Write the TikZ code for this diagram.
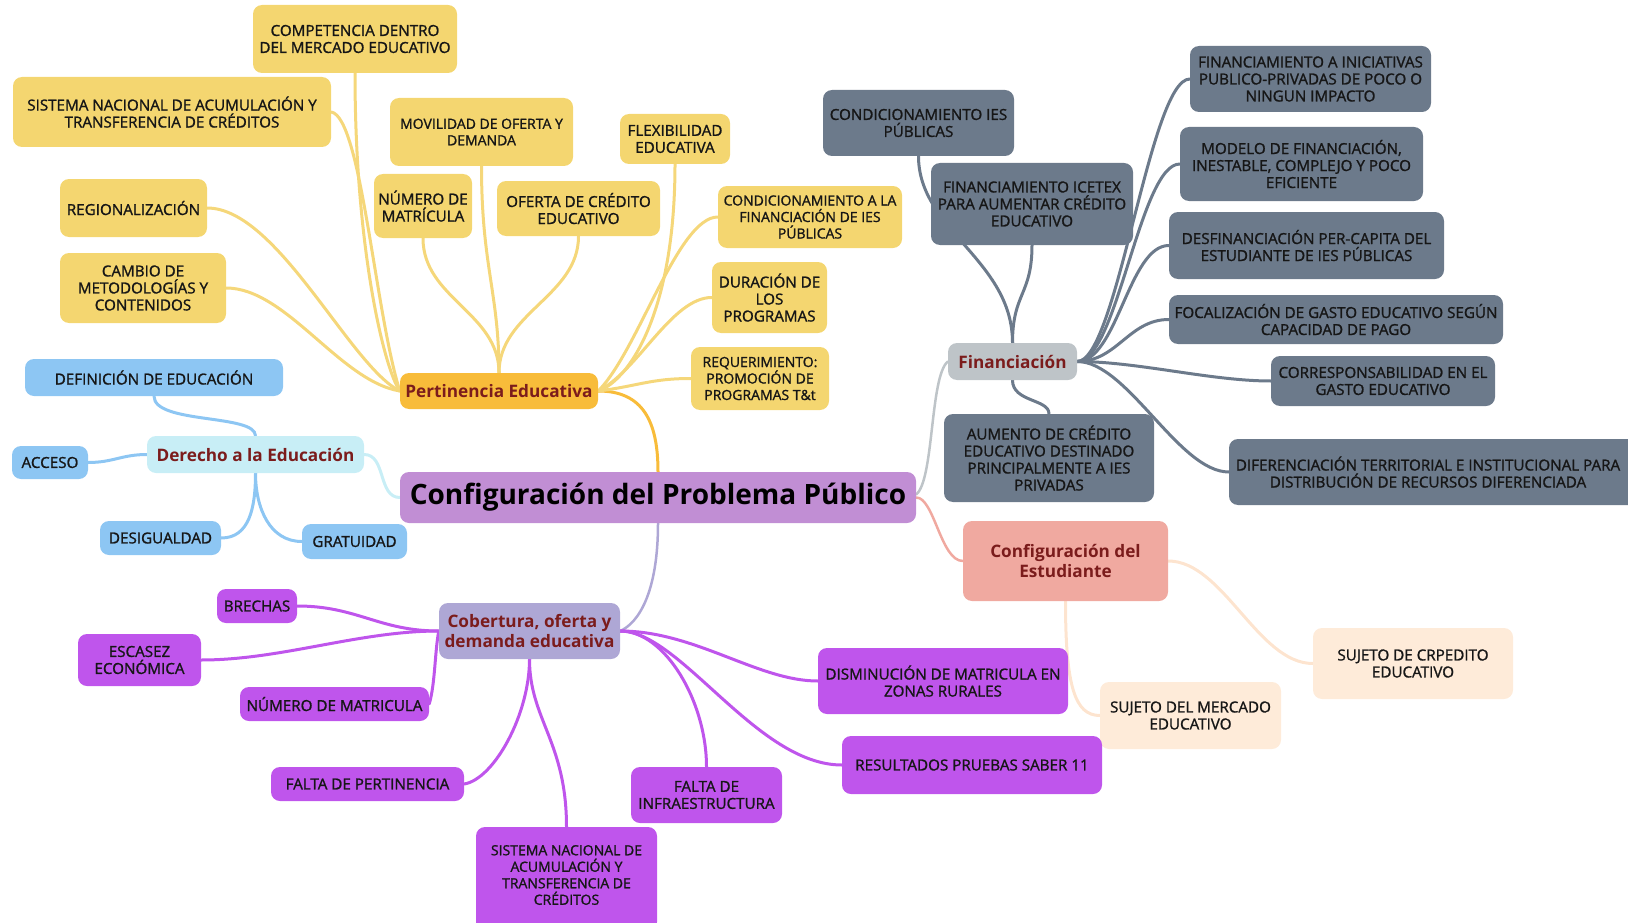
\documentclass[tikz,border=0pt]{standalone}
\usepackage{fontspec}
\setmainfont{Open Sans}
\newfontfamily\semifont{Open Sans}[FakeBold=1.3]
\pgfdeclarelayer{bg}
\pgfsetlayers{bg,main}

\definecolor{yelfill}{HTML}{F4D670}
\definecolor{yelline}{HTML}{F5D77A}
\definecolor{orgfill}{HTML}{F8BC3A}
\definecolor{bluefill}{HTML}{8DC6F3}
\definecolor{cyanfill}{HTML}{C8EEF6}
\definecolor{mainfill}{HTML}{C18ED4}
\definecolor{finfill}{HTML}{BEC4C8}
\definecolor{greyfill}{HTML}{6C7A8B}
\definecolor{salfill}{HTML}{F0A9A0}
\definecolor{peachfill}{HTML}{FEEBD9}
\definecolor{peachline}{HTML}{FDE4CF}
\definecolor{lavfill}{HTML}{AEA7D5}
\definecolor{magfill}{HTML}{BF55EC}
\definecolor{titlered}{HTML}{7B1C1C}
\definecolor{inktext}{HTML}{161616}

\tikzset{
  box/.style={rectangle, rounded corners=9pt, inner sep=0pt, align=center,
    text=inktext, font=\semifont\fontsize{15.2}{17}\selectfont},
  smalltext/.style={font=\semifont\fontsize{14}{16.5}\selectfont},
  yel/.style={box, fill=yelfill},
  blu/.style={box, fill=bluefill},
  gry/.style={box, fill=greyfill},
  pch/.style={box, fill=peachfill},
  mag/.style={box, fill=magfill},
  topic/.style={rectangle, rounded corners=9pt, inner sep=0pt, align=center,
    text=titlered, font=\bfseries\fontsize{17.2}{19.5}\selectfont},
  wh/.style 2 args={minimum width=#1pt, minimum height=#2pt},
  link/.style={line width=3pt, line cap=round},
}

\begin{document}
\begin{tikzpicture}[x=1pt, y=-1pt]
\useasboundingbox (0,0) rectangle (1628,923);

% ---------- central topic ----------
\node[rectangle, rounded corners=9pt, fill=mainfill, inner sep=0pt, wh={516}{51},
  font=\bfseries\fontsize{28}{32}\selectfont, text=black] (C) at (658,497.5)
  {Configuración del Problema Público};

% ---------- Pertinencia Educativa ----------
\node[topic, fill=orgfill, wh={198}{36}] (P) at (499,391) {Pertinencia Educativa};
\node[yel, wh={204}{68}] (y1) at (355,39) {COMPETENCIA DENTRO\\DEL MERCADO EDUCATIVO};
\node[yel, wh={318}{70}] (y2) at (172,112) {SISTEMA NACIONAL DE ACUMULACIÓN Y\\TRANSFERENCIA DE CRÉDITOS};
\node[yel, smalltext, wh={183}{68}] (y3) at (481.5,132) {MOVILIDAD DE OFERTA Y\\DEMANDA};
\node[yel, wh={147}{58}] (y4) at (133.5,208) {REGIONALIZACIÓN};
\node[yel, wh={166}{70}] (y5) at (143,288) {CAMBIO DE\\METODOLOGÍAS Y\\CONTENIDOS};
\node[yel, wh={98}{64}] (y6) at (423,206) {NÚMERO DE\\MATRÍCULA};
\node[yel, wh={163}{55}] (y7) at (578.5,208.5) {OFERTA DE CRÉDITO\\EDUCATIVO};
\node[yel, wh={110}{50}] (y8) at (675,139) {FLEXIBILIDAD\\EDUCATIVA};
\node[yel, smalltext, wh={184}{62}] (y9) at (810,217) {CONDICIONAMIENTO A LA\\FINANCIACIÓN DE IES\\PÚBLICAS};
\node[yel, wh={115}{71}] (y10) at (769.5,297.5) {DURACIÓN DE\\LOS\\PROGRAMAS};
\node[yel, smalltext, wh={138}{63}] (y11) at (760,378.5) {REQUERIMIENTO:\\PROMOCIÓN DE\\PROGRAMAS T\&t};

% ---------- Derecho a la Educación ----------
\node[topic, fill=cyanfill, wh={217}{37}] (D) at (255.5,454.5) {Derecho a la Educación};
\node[blu, wh={258}{37}] (b1) at (154,377.5) {DEFINICIÓN DE EDUCACIÓN};
\node[blu, wh={76}{33}] (b2) at (50,462.5) {ACCESO};
\node[blu, wh={121}{34}] (b3) at (160.5,538) {DESIGUALDAD};
\node[blu, wh={105}{35}] (b4) at (354.5,541.5) {GRATUIDAD};

% ---------- Financiación ----------
\node[topic, fill=finfill, wh={129}{37}] (F) at (1012.5,361.5) {Financiación};
\node[gry, wh={191}{66}] (g1) at (918.5,123) {CONDICIONAMIENTO IES\\PÚBLICAS};
\node[gry, wh={202}{82}] (g2) at (1032,204) {FINANCIAMIENTO ICETEX\\PARA AUMENTAR CRÉDITO\\EDUCATIVO};
\node[gry, wh={241}{66}] (g3) at (1310.5,79) {FINANCIAMIENTO A INICIATIVAS\\PUBLICO-PRIVADAS DE POCO O\\NINGUN IMPACTO};
\node[gry, wh={243}{74}] (g4) at (1301.5,164) {MODELO DE FINANCIACIÓN,\\INESTABLE, COMPLEJO Y POCO\\EFICIENTE};
\node[gry, wh={275}{67}] (g5) at (1306.5,245.5) {DESFINANCIACIÓN PER-CAPITA DEL\\ESTUDIANTE DE IES PÚBLICAS};
\node[gry, wh={334}{49}] (g6) at (1336,319.5) {FOCALIZACIÓN DE GASTO EDUCATIVO SEGÚN\\CAPACIDAD DE PAGO};
\node[gry, wh={224}{50}] (g7) at (1383,381) {CORRESPONSABILIDAD EN EL\\GASTO EDUCATIVO};
\node[gry, wh={411}{66}] (g8) at (1434.5,472) {};
\node[box, align=center] (g8t) at (1428,472) {DIFERENCIACIÓN TERRITORIAL E INSTITUCIONAL PARA\\DISTRIBUCIÓN DE RECURSOS DIFERENCIADA};
\node[gry, wh={210}{88}] (g9) at (1049,458) {AUMENTO DE CRÉDITO\\EDUCATIVO DESTINADO\\PRINCIPALMENTE A IES\\PRIVADAS};

% ---------- Configuración del Estudiante ----------
\node[topic, fill=salfill, wh={205}{80}] (E) at (1065.5,561) {Configuración del\\Estudiante};
\node[pch, wh={181}{67}] (p1) at (1190.5,715.5) {SUJETO DEL MERCADO\\EDUCATIVO};
\node[pch, wh={200}{71}] (p2) at (1413,663.5) {SUJETO DE CRPEDITO\\EDUCATIVO};

% ---------- Cobertura, oferta y demanda educativa ----------
\node[topic, fill=lavfill, wh={181}{56}] (B) at (529.5,631) {Cobertura, oferta y\\demanda educativa};
\node[mag, wh={80}{34}] (m1) at (257,606) {BRECHAS};
\node[mag, wh={123}{52}] (m2) at (139.5,660) {ESCASEZ\\ECONÓMICA};
\node[mag, wh={189}{34}] (m3) at (334.5,704) {NÚMERO DE MATRICULA};
\node[mag, wh={193}{34}] (m4) at (367.5,784) {FALTA DE PERTINENCIA};
\node[mag, wh={181}{104}] (m5) at (566.5,879) {};
\node[box, smalltext] (m5t) at (566.5,875) {SISTEMA NACIONAL DE\\ACUMULACIÓN Y\\TRANSFERENCIA DE\\CRÉDITOS};
\node[mag, wh={151}{56}] (m6) at (706.5,795) {FALTA DE\\INFRAESTRUCTURA};
\node[mag, wh={250}{66}] (m7) at (943,681) {DISMINUCIÓN DE MATRICULA EN\\ZONAS RURALES};
\node[mag, wh={260}{58}] (m8) at (972,765) {RESULTADOS PRUEBAS SABER 11};

% ---------- connectors ----------
\begin{pgfonlayer}{bg}
% main branches
\draw[link, orgfill] (P.east) .. controls +(45,0) and +(0,-50) .. (C.north);
\draw[link, cyanfill] (D.east) .. controls +(22,0) and +(-22,0) .. (C.west);
\draw[link, lavfill, line width=2.5pt] (C.south) .. controls +(0,70) and +(18,-8) .. (B.east);
\draw[link, salfill, line width=2.5pt] (C.east) .. controls +(18,0) and +(-22,0) .. (E.west);
\draw[link, finfill, line width=2.5pt] ([yshift=3pt]C.east) .. controls +(18,-15) and +(-18,15) .. (F.west);

% Pertinencia Educativa
\draw[link, yelline] (y1.south) .. controls +(0,177) and +(-15,-21) .. (P.west);
\draw[link, yelline] (y2.east) .. controls +(30,5) and +(-25,-80) .. (P.west);
\draw[link, yelline] (y4.east) .. controls +(70,0) and +(-50,-25) .. (P.west);
\draw[link, yelline] (y5.east) .. controls +(60,0) and +(-60,-10) .. (P.west);
\draw[link, yelline] (y6.south) .. controls +(0,60) and +(0,-60) .. (P.north);
\draw[link, yelline] (y3.south) .. controls +(0,100) and +(0,-80) .. (P.north);
\draw[link, yelline] (y7.south) .. controls +(0,60) and +(0,-60) .. (P.north);
\draw[link, yelline] (y8.south) .. controls +(0,150) and +(30,-10) .. (P.east);
\draw[link, yelline] (y9.west) .. controls +(-40,0) and +(40,-40) .. (P.east);
\draw[link, yelline] (y10.west) .. controls +(-40,0) and +(40,-20) .. (P.east);
\draw[link, yelline] (y11.west) .. controls +(-40,0) and +(40,-5) .. (P.east);

% Derecho a la Educación
\draw[link, bluefill] (b1.south) .. controls +(0,28) and +(0,-22) .. (D.north);
\draw[link, bluefill] (b2.east) .. controls +(25,0) and +(-25,0) .. (D.west);
\draw[link, bluefill] (b3.east) .. controls +(28,0) and +(0,35) .. (D.south);
\draw[link, bluefill] (b4.west) .. controls +(-32,0) and +(0,35) .. (D.south);

% Financiación
\draw[link, greyfill] (g1.south) .. controls +(0,74) and +(0,-83) .. (F.north);
\draw[link, greyfill] (g2.south) .. controls +(0,50) and +(0,-50) .. (F.north);
\draw[link, greyfill] (F.east) .. controls +(40,0) and +(-40,0) .. (g3.west);
\draw[link, greyfill] (F.east) .. controls +(40,0) and +(-40,0) .. (g4.west);
\draw[link, greyfill] (F.east) .. controls +(40,0) and +(-40,0) .. (g5.west);
\draw[link, greyfill] (F.east) .. controls +(40,0) and +(-40,0) .. (g6.west);
\draw[link, greyfill] (F.east) .. controls +(60,0) and +(-60,0) .. (g7.west);
\draw[link, greyfill] (F.east) .. controls +(50,0) and +(-50,0) .. (g8.west);
\draw[link, greyfill] (F.south) .. controls +(0,22) and +(0,-15) .. (g9.north);

% Configuración del Estudiante
\draw[link, peachline] (E.south) .. controls +(0,85) and +(-25,0) .. (p1.west);
\draw[link, peachline] (E.east) .. controls +(55,0) and +(-55,0) .. (p2.west);

% Cobertura, oferta y demanda educativa
\draw[link, magfill] (m1.east) .. controls +(60,0) and +(-60,0) .. (B.west);
\draw[link, magfill] (m2.east) .. controls +(80,0) and +(-80,0) .. (B.west);
\draw[link, magfill] (m3.east) .. controls +(6,-20) and +(-4,20) .. (B.west);
\draw[link, magfill] (m4.east) .. controls +(30,-5) and +(0,55) .. (B.south);
\draw[link, magfill] (m5.north) .. controls +(0,-85) and +(0,60) .. (B.south);
\draw[link, magfill] (B.east) .. controls +(45,0) and +(0,-65) .. (m6.north);
\draw[link, magfill] (B.east) .. controls +(75,0) and +(-60,0) .. (m7.west);
\draw[link, magfill] (B.east) .. controls +(60,0) and +(-85,0) .. (m8.west);
\end{pgfonlayer}
\end{tikzpicture}
\end{document}
